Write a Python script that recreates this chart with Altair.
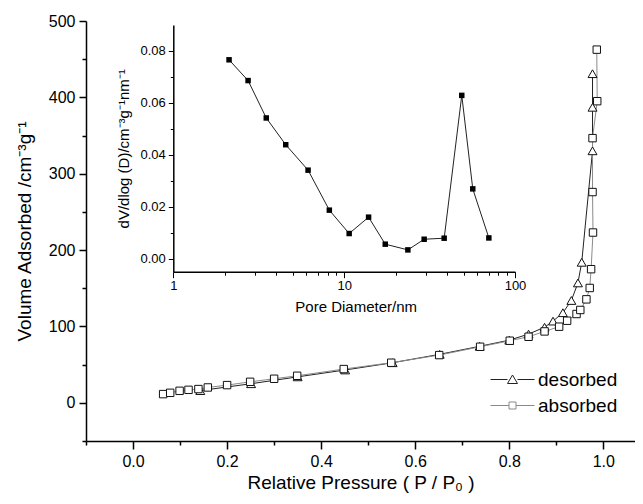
import altair as alt
import pandas as pd

FONT = "Liberation Sans"

# ---- isotherm data ----
des_p = [0.143, 0.251, 0.350, 0.451, 0.552, 0.652, 0.737, 0.800, 0.841, 0.875, 0.893,
         0.914, 0.932, 0.946, 0.954, 0.977, 0.977, 0.977]
des_v = [16, 25, 34, 43, 52.5, 63.5, 74, 82, 90, 99, 107,
         118, 134, 157, 184, 330, 387, 431]

abs_p = [0.064, 0.079, 0.099, 0.118, 0.139, 0.159, 0.200, 0.249, 0.300, 0.349, 0.448,
         0.549, 0.651, 0.738, 0.801, 0.841, 0.875, 0.906, 0.923, 0.943, 0.951, 0.964,
         0.971, 0.974, 0.978, 0.977, 0.977, 0.987, 0.986]
abs_v = [11.4, 13.1, 15.7, 17.0, 18.0, 20.1, 23.2, 27.5, 31.5, 35.4, 44.2,
         52.5, 62.5, 73.4, 81.3, 86.5, 93.5, 99.7, 107.5, 116.3, 121.6, 135.5,
         150.4, 175, 223, 276, 346.6, 395, 462.5]

# ---- pore size distribution (inset) ----
pore_d = [2.12, 2.74, 3.50, 4.55, 6.15, 8.19, 10.7, 13.9, 17.4, 23.6, 29.4, 38.5, 48.8, 56.6, 70.3]
pore_dv = [0.0766, 0.0686, 0.0542, 0.0439, 0.0341, 0.0187, 0.0097, 0.0160, 0.0056,
           0.0034, 0.0075, 0.0079, 0.0629, 0.0269, 0.0080]

# ---- tick values ----
main_x_ticks = [-0.1, 0.0, 0.1, 0.2, 0.3, 0.4, 0.5, 0.6, 0.7, 0.8, 0.9, 1.0]
main_y_ticks = [-50, 0, 50, 100, 150, 200, 250, 300, 350, 400, 450, 500]
inset_x_ticks = [1, 2, 3, 4, 5, 6, 7, 8, 9, 10, 20, 30, 40, 50, 60, 70, 80, 90, 100]
inset_y_ticks = [0.0, 0.01, 0.02, 0.03, 0.04, 0.05, 0.06, 0.07, 0.08]

series_names = ["desorbed", "absorbed"]

des = pd.DataFrame({"P": des_p, "V": des_v, "i": list(range(len(des_p)))})
ads = pd.DataFrame({"P": abs_p, "V": abs_v, "i": list(range(len(abs_p)))})
psd = pd.DataFrame({"D": pore_d, "dV": pore_dv})
leg = pd.DataFrame({"P": [0.5, 0.5], "V": [-9999, -9999], "series": series_names})

W, H = 549, 420

x_main = alt.X(
    "P:Q",
    scale=alt.Scale(domain=[-0.1, 1.0673], nice=False, zero=False),
    axis=alt.Axis(
        values=main_x_ticks,
        labelExpr="round(datum.value*10) % 2 == 0 ? format(datum.value, '.1f') : ''",
        tickSize={"condition": {"test": "round(datum.value*10) % 2 == 0", "value": 8}, "value": 4},
        title="Relative Pressure ( P / P₀ )",
        titleFontSize=19, titleFontWeight="normal", titlePadding=4,
        labelFontSize=16, labelPadding=4, labelFlush=False, labelOverlap=False,
        grid=False, domainColor="black", domainWidth=1.5,
        tickColor="black", tickWidth=1.5, labelColor="black", titleColor="black",
        orient="bottom",
    ),
)
y_main = alt.Y(
    "V:Q",
    scale=alt.Scale(domain=[-50, 500], nice=False, zero=False),
    axis=alt.Axis(
        values=main_y_ticks,
        labelExpr="datum.value % 100 == 0 ? format(datum.value, 'd') : ''",
        tickSize={"condition": {"test": "datum.value % 100 == 0", "value": 7}, "value": 4},
        title="Volume Adsorbed /cm⁻³g⁻¹",
        titleFontSize=19, titleFontWeight="normal", titlePadding=14,
        labelFontSize=16, labelPadding=4, labelFlush=False, labelOverlap=False,
        grid=False, domainColor="black", domainWidth=1.5,
        tickColor="black", tickWidth=1.5, labelColor="black", titleColor="black",
        orient="left",
    ),
)

des_line = alt.Chart(des).mark_line(color="#222222", strokeWidth=1).encode(
    x=x_main, y=y_main, order="i:Q")
ads_line = alt.Chart(ads).mark_line(color="#8a8a8a", strokeWidth=1).encode(
    x=x_main, y=y_main, order="i:Q")
des_pts = alt.Chart(des).mark_point(shape="triangle-up", size=80, filled=True, fill="white",
                                    stroke="#111111", strokeWidth=1, opacity=1).encode(x=x_main, y=y_main)
ads_pts = alt.Chart(ads).mark_point(shape="square", size=55, filled=True, fill="white",
                                    stroke="#111111", strokeWidth=1, opacity=1).encode(x=x_main, y=y_main)

tri_path = "M-4.4,0H-1M1,0H4.4M-1,0.8L0,-0.9L1,0.8Z"
sq_path = "M-4.4,0H-0.7M0.7,0H4.4M-0.7,-0.7H0.7V0.7H-0.7Z"

legend_layer = alt.Chart(leg).mark_point(filled=False, opacity=1, strokeWidth=1).encode(
    x=x_main, y=y_main,
    shape=alt.Shape("series:N", scale=alt.Scale(domain=series_names, range=[tri_path, sq_path]),
                    legend=alt.Legend(orient="none", legendX=417, legendY=349, title=None,
                                      labelFontSize=19, labelColor="black", symbolSize=100,
                                      symbolStrokeWidth=1, labelOffset=16, rowPadding=6,
                                      symbolFillColor="transparent")),
    stroke=alt.Stroke("series:N", scale=alt.Scale(domain=series_names, range=["#222222", "#8a8a8a"])),
).transform_filter("datum.V > -1000")

main = alt.layer(des_line, ads_line, des_pts, ads_pts, legend_layer)

# ---- inset ----
x_in = alt.X(
    "D:Q",
    scale=alt.Scale(type="log", domain=[1, 100], range=[87.3, 429], nice=False),
    axis=alt.Axis(
        values=inset_x_ticks,
        labelExpr="(datum.value == 1 || datum.value == 10 || datum.value == 100) ? format(datum.value, 'd') : ''",
        tickSize={"condition": {"test": "datum.value == 1 || datum.value == 10 || datum.value == 100", "value": 6}, "value": 3.5},
        title="Pore Diameter/nm", titleX=269.7,
        titleFontSize=15, titleFontWeight="normal", titlePadding=7,
        labelFontSize=13, labelPadding=2, labelFlush=False, labelOverlap=False,
        grid=False, domainColor="black", domainWidth=1.5,
        tickColor="black", tickWidth=1, labelColor="black", titleColor="black",
        orient="bottom", offset=-169.3,
    ),
)
y_in = alt.Y(
    "dV:Q",
    scale=alt.Scale(domain=[-0.005, 0.09], range=[250.7, 4.0], nice=False, zero=False),
    axis=alt.Axis(
        values=inset_y_ticks,
        labelExpr="round(datum.value*100) % 2 == 0 ? format(datum.value, '.2f') : ''",
        tickSize={"condition": {"test": "round(datum.value*100) % 2 == 0", "value": 5}, "value": 3},
        title="dV/dlog (D)/cm⁻³g⁻¹nm⁻¹",
        titleFontSize=15, titleFontWeight="normal", titlePadding=8,
        labelFontSize=13, labelPadding=3, labelFlush=False, labelOverlap=False,
        grid=False, domainColor="black", domainWidth=1.5,
        tickColor="black", tickWidth=1, labelColor="black", titleColor="black",
        orient="left", offset=-87.3,
    ),
)

psd_line = alt.Chart(psd).mark_line(color="#222222", strokeWidth=1).encode(x=x_in, y=y_in)
psd_pts = alt.Chart(psd).mark_point(shape="square", size=30, filled=True, color="black",
                                    opacity=1).encode(x=x_in, y=y_in)
inset = alt.layer(psd_line, psd_pts)

chart = alt.layer(main, inset).resolve_scale(
    x="independent", y="independent", shape="independent", stroke="independent"
).properties(
    width=W, height=H,
    autosize=alt.AutoSizeParams(type="none"),
    padding={"left": 78, "top": 13, "right": 0, "bottom": 55},
    background="white",
).configure(font=FONT).configure_view(stroke=None).configure_legend(labelFont=FONT)

chart.save("out.html", embed_options={"renderer": "svg", "actions": False})
